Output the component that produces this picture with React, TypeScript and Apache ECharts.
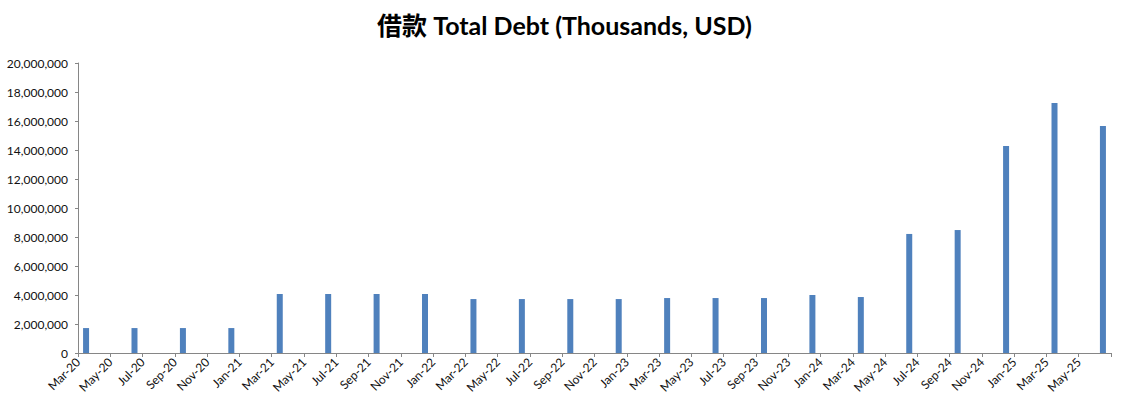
import React, { useEffect, useRef } from "react";
import * as echarts from "echarts";

const MONTH_NAMES = ["Jan", "Feb", "Mar", "Apr", "May", "Jun", "Jul", "Aug", "Sep", "Oct", "Nov", "Dec"];
// Monthly axis from Mar-20 through Jun-25 (64 months)
const months: string[] = [];
for (let y = 2020; y <= 2025; y++) {
  for (let m = 0; m < 12; m++) {
    if (y === 2020 && m < 2) continue;
    if (y === 2025 && m > 5) continue;
    months.push(`${MONTH_NAMES[m]}-${String(y).slice(2)}`);
  }
}

const quarters = [
  "Mar-20", "Jun-20", "Sep-20", "Dec-20",
  "Mar-21", "Jun-21", "Sep-21", "Dec-21",
  "Mar-22", "Jun-22", "Sep-22", "Dec-22",
  "Mar-23", "Jun-23", "Sep-23", "Dec-23",
  "Mar-24", "Jun-24", "Sep-24", "Dec-24",
  "Mar-25", "Jun-25",
];

const totalDebt = [
  1720000, 1720000, 1720000, 1720000,
  4070000, 4070000, 4070000, 4070000,
  3720000, 3720000, 3720000, 3720000,
  3790000, 3790000, 3790000, 4000000,
  3860000, 8210000, 8480000, 14280000,
  17240000, 15660000,
];

const yTicks = { min: 0, max: 20000000, interval: 2000000 };

const TITLE = "借款 Total Debt (Thousands, USD)";

export default function App() {
  const ref = useRef<HTMLDivElement>(null);
  useEffect(() => {
    if (!ref.current) return;
    const chart = echarts.init(ref.current, undefined, { renderer: "svg" });
    const axisColor = "#868686";
    const labelFont = { fontFamily: "Lato, 'Noto Sans', sans-serif", fontSize: 12, color: "#111111" };
    chart.setOption({
      animation: false,
      backgroundColor: "#ffffff",
      title: {
        text: TITLE,
        left: "center",
        top: 7,
        textStyle: {
          fontFamily: "Lato, 'Noto Sans CJK SC', sans-serif",
          fontWeight: "bold",
          fontSize: 25,
          color: "#000000",
        },
      },
      grid: { left: 78, right: 18, top: 63, bottom: 54, containLabel: false },
      xAxis: {
        type: "value",
        min: 0,
        max: months.length,
        interval: 2,
        splitLine: { show: false },
        axisLine: { show: true, lineStyle: { color: axisColor } },
        axisTick: { show: true, length: 4, lineStyle: { color: axisColor } },
        axisLabel: {
          ...labelFont,
          rotate: 45,
          margin: 7,
          showMinLabel: true,
          showMaxLabel: true,
          formatter: (v: number) => (v < months.length ? months[v] : ""),
        },
      },
      yAxis: {
        type: "value",
        min: yTicks.min,
        max: yTicks.max,
        interval: yTicks.interval,
        splitLine: { show: false },
        axisLine: { show: true, lineStyle: { color: axisColor } },
        axisTick: { show: true, length: 3, lineStyle: { color: axisColor } },
        axisLabel: {
          ...labelFont,
          margin: 10,
          formatter: (v: number) => v.toLocaleString("en-US"),
        },
      },
      series: [
        {
          type: "bar",
          barWidth: 6,
          itemStyle: { color: "#4F81BD" },
          data: quarters.map((q, i) => [months.indexOf(q) + 0.5, totalDebt[i]]),
        },
      ],
    });
    return () => chart.dispose();
  }, []);
  return (
    <div
      ref={ref}
      style={{ position: "fixed", left: 0, top: 0, width: 1129, height: 407, background: "#fff" }}
    />
  );
}
